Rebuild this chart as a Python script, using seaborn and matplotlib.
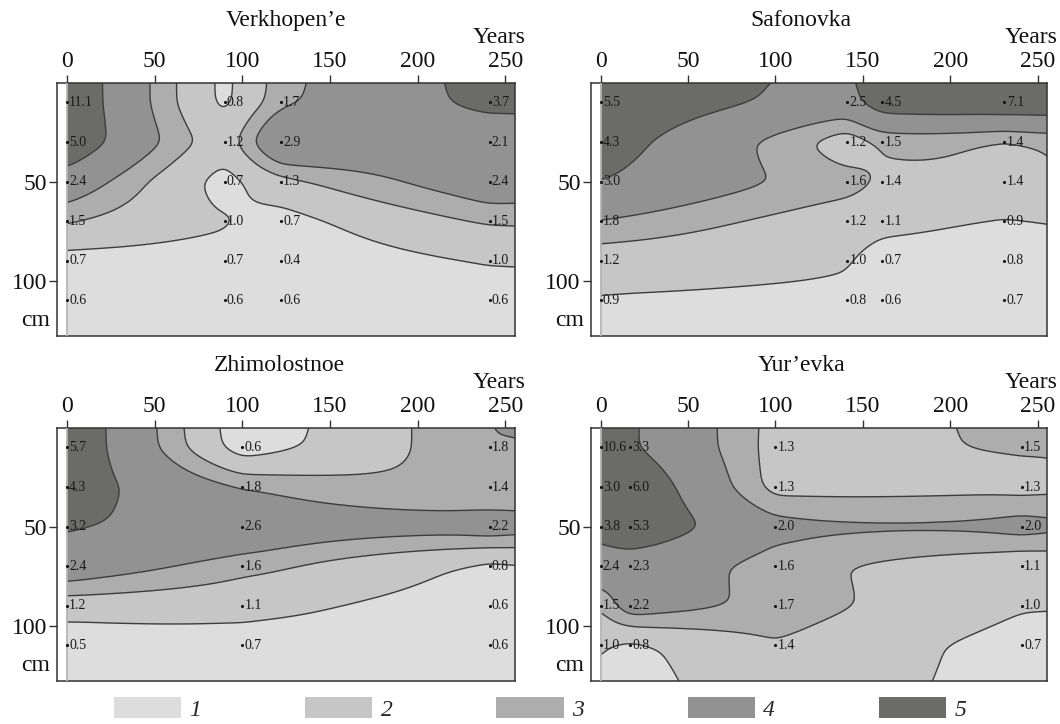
import numpy as np
import pandas as pd
import matplotlib
matplotlib.use("Agg")
import matplotlib.pyplot as plt
import seaborn as sns
from matplotlib.patches import Patch
import matplotlib.transforms as mtransforms

# ---------------- data ----------------
DEPTHS = [10, 30, 50, 70, 90, 110]          # cm
X_TICKS = [0, 50, 100, 150, 200, 250]       # years
Y_TICKS = [50, 100]

verk_years = [0, 90, 122, 241]
verk_values = [[11.1, 5.0, 2.4, 1.5, 0.7, 0.6],
               [0.8, 1.2, 0.7, 1.0, 0.7, 0.6],
               [1.7, 2.9, 1.3, 0.7, 0.4, 0.6],
               [3.7, 2.1, 2.4, 1.5, 1.0, 0.6]]

safo_years = [0, 141, 161, 231]
safo_values = [[5.5, 4.3, 3.0, 1.8, 1.2, 0.9],
               [2.5, 1.2, 1.6, 1.2, 1.0, 0.8],
               [4.5, 1.5, 1.4, 1.1, 0.7, 0.6],
               [7.1, 1.4, 1.4, 0.9, 0.8, 0.7]]

zhim_years = [0, 100, 241]
zhim_values = [[5.7, 4.3, 3.2, 2.4, 1.2, 0.5],
               [0.6, 1.8, 2.6, 1.6, 1.1, 0.7],
               [1.8, 1.4, 2.2, 0.8, 0.6, 0.6]]

yure_years = [0, 17, 100, 241]
yure_values = [[10.6, 3.0, 3.8, 2.4, 1.5, 1.0],
               [3.3, 6.0, 5.3, 2.3, 2.2, 0.8],
               [1.3, 1.3, 2.0, 1.6, 1.7, 1.4],
               [1.5, 1.3, 2.0, 1.1, 1.0, 0.7]]

TITLES = ["Verkhopen\u2019e", "Safonovka", "Zhimolostnoe", "Yur\u2019evka"]
CLASS_BREAKS = [0.95, 1.45, 1.82, 3.0]     # class limits (1|2|3|4|5)
CLASS_LABELS = ["1", "2", "3", "4", "5"]
CLASS_COLORS = ["#dcdddc", "#c5c6c5", "#adadad", "#929292", "#6b6b6a"]

# monotone "class scale" used for gridding the surface
SCALE_V = [0.3, 1.0, 1.5, 2.0, 3.0, 5.0]
SCALE_C = [0.5, 1.5, 2.5, 3.5, 4.5, 5.5]

# ---------------- style ----------------
sns.set_style("ticks")
plt.rcParams["font.family"] = ["Liberation Serif", "DejaVu Serif"]

fig = plt.figure(figsize=(10.6, 7.24), dpi=100)

W, H = 1060.0, 724.0
panel_px = [(57.3, 82.7, 515.0, 336.0),
            (591.0, 82.7, 1047.3, 336.0),
            (57.3, 427.7, 515.0, 681.0),
            (591.0, 427.7, 1047.3, 681.0)]
title_x = [0.5, 0.46, 0.485, 0.462]


def to_scale(v):
    return np.interp(v, SCALE_V, SCALE_C)


def _tps_kernel(r):
    with np.errstate(divide="ignore", invalid="ignore"):
        k = r * r * np.log(r)
    return np.where(r > 0, k, 0.0)


def spline_surface(years, z, gx, gy):
    xs = np.repeat(np.asarray(years, float), len(DEPTHS))
    ys = np.tile(np.asarray(DEPTHS, float), len(years))
    P = np.column_stack([xs, ys]) / 100.0
    n = len(P)
    D = np.sqrt(((P[:, None, :] - P[None, :, :]) ** 2).sum(-1))
    Q = np.column_stack([np.ones(n), P])
    A = np.zeros((n + 3, n + 3))
    A[:n, :n] = _tps_kernel(D)
    A[:n, n:] = Q
    A[n:, :n] = Q.T
    sol = np.linalg.solve(A, np.concatenate([z, np.zeros(3)]))
    GX, GY = np.meshgrid(gx, gy)
    G = np.column_stack([GX.ravel(), GY.ravel()]) / 100.0
    DG = np.sqrt(((G[:, None, :] - P[None, :, :]) ** 2).sum(-1))
    return (_tps_kernel(DG) @ sol[:n] + sol[n] + G @ sol[n + 1:]).reshape(GX.shape)


def _smooth(F, sig):
    r = int(3 * sig)
    t = np.arange(-r, r + 1)
    g = np.exp(-t ** 2 / (2.0 * sig ** 2))
    g /= g.sum()
    Fp = np.pad(F, ((0, 0), (r, r)), mode="edge")
    F = np.array([np.convolve(row, g, mode="valid") for row in Fp])
    Fp = np.pad(F, ((r, r), (0, 0)), mode="edge")
    return np.array([np.convolve(col, g, mode="valid") for col in Fp.T]).T


def linear_surface(years, z, gx, gy):
    M = np.asarray(z, float).reshape(len(years), len(DEPTHS))
    cols = np.array([np.interp(gy, DEPTHS, M[j]) for j in range(len(years))])
    F = np.array([np.interp(gx, years, cols[:, k]) for k in range(len(gy))])
    return _smooth(F, 3)


gx = np.linspace(0, 256, 200)
gy = np.linspace(0, 128, 130)
GX, GY = np.meshgrid(gx, gy)
LEVELS_C = list(to_scale(CLASS_BREAKS))

panels = [(verk_years, verk_values), (safo_years, safo_values),
          (zhim_years, zhim_values), (yure_years, yure_values)]

for i, ((years, values), (l, t, r, b)) in enumerate(zip(panels, panel_px)):
    ax = fig.add_axes([l / W, 1 - b / H, (r - l) / W, (b - t) / H])
    z = to_scale(np.asarray(values, float).ravel())
    F = 0.15 * spline_surface(years, z, gx, gy) + 0.85 * linear_surface(years, z, gx, gy)
    ax.contourf(GX, GY, F, levels=[-1e9] + LEVELS_C + [1e9],
                colors=CLASS_COLORS, antialiased=True)
    ax.contour(GX, GY, F, levels=LEVELS_C, colors="#3c3c3c", linewidths=1.0)
    ax.axvline(0, color="#b5b5b5", lw=1.3, zorder=3)

    df = pd.DataFrame({
        "year": np.repeat(years, len(DEPTHS)),
        "depth": np.tile(DEPTHS, len(years)),
        "value": np.asarray(values, float).ravel(),
    })
    sns.scatterplot(data=df, x="year", y="depth", ax=ax, color="#111111",
                    s=5, linewidth=0, zorder=5, legend=False)
    for _, row in df.iterrows():
        ax.annotate(f"{row['value']:.1f}", (row["year"], row["depth"]),
                    xytext=(1.6, 0), textcoords="offset points",
                    ha="left", va="center", fontsize=10, color="#1a1a1a",
                    zorder=6)

    ax.set_xlim(-5.5, 255.5)
    ax.set_ylim(128, 0)
    ax.xaxis.tick_top()
    ax.set_xticks(X_TICKS)
    ax.set_xticklabels([str(v) for v in X_TICKS])
    ax.set_yticks(Y_TICKS)
    ax.set_yticklabels([str(v) for v in Y_TICKS])
    ax.tick_params(axis="both", labelsize=17, length=6, width=1.0,
                   color="#333333", pad=1.5, labelcolor="#111111")
    ax.set_xlabel("")
    ax.set_ylabel("")
    for sp in ax.spines.values():
        sp.set_visible(True)
        sp.set_color("#333333")
        sp.set_linewidth(1.1)
    trans = mtransforms.blended_transform_factory(ax.transAxes, ax.transData)
    ax.text(-0.016, 120, "cm", transform=trans, ha="right", va="center",
            fontsize=17, color="#111111")
    ax.text(0.965, 1.179, "Years", transform=ax.transAxes, ha="center",
            va="center", fontsize=17, color="#111111")
    ax.text(title_x[i], 1.244, TITLES[i], transform=ax.transAxes, ha="center",
            va="center", fontsize=17, color="#111111")

handles = [Patch(facecolor=c, edgecolor="none") for c in CLASS_COLORS]
leg = fig.legend(handles, CLASS_LABELS, ncol=5, loc="center",
                 bbox_to_anchor=(540 / W, 1 - 709 / H), frameon=False,
                 handlelength=2.85, handleheight=1.0, handletextpad=0.35,
                 columnspacing=4.4, prop={"family": "Liberation Serif",
                                          "style": "italic", "size": 17})

fig.savefig("out.png", dpi=100)
